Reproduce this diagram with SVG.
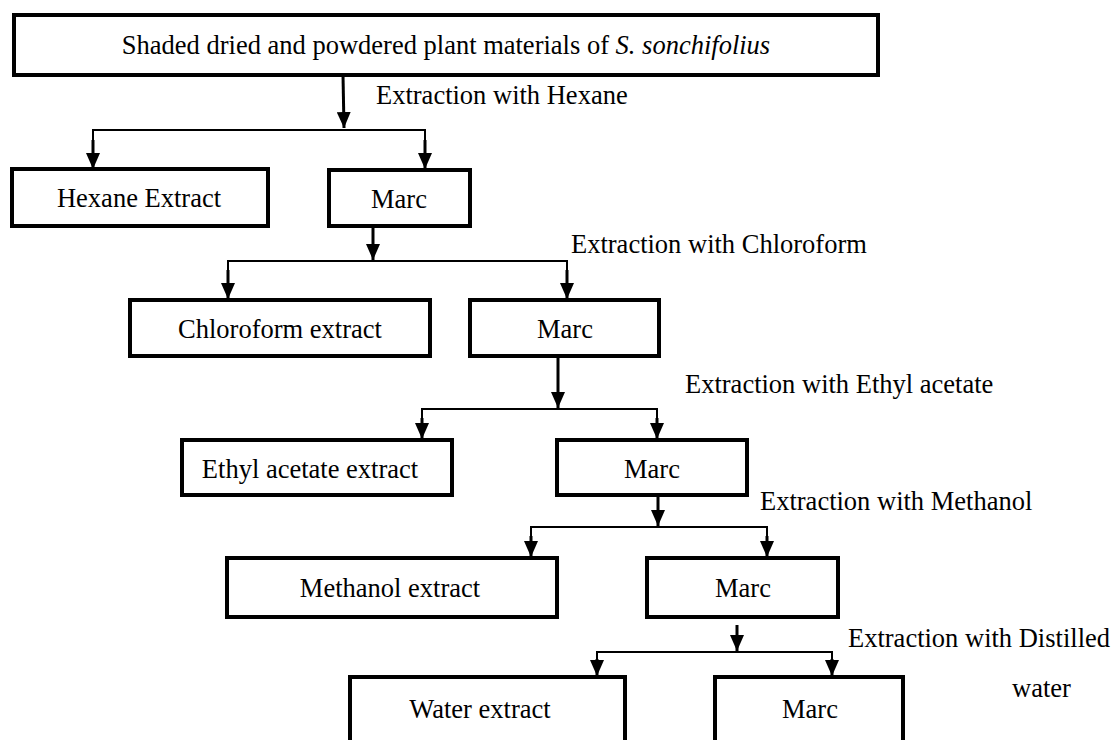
<svg xmlns="http://www.w3.org/2000/svg" width="1119" height="740" viewBox="0 0 1119 740">
<defs>
<marker id="ah" markerUnits="userSpaceOnUse" markerWidth="16" markerHeight="14" refX="16" refY="7" orient="auto" viewBox="0 0 16 14">
<path d="M0,0 L16,7 L0,14 Z" fill="#000"/>
</marker>
<style>
.box{fill:#fff;stroke:#000;stroke-width:4}
.t{font-family:"Liberation Serif","Times New Roman",serif;font-size:26.5px;fill:#000}
.c{text-anchor:middle}
.main{fill:none;stroke:#000;stroke-width:3}
.br{fill:none;stroke:#000;stroke-width:2}
</style>
</defs>
<rect width="1119" height="740" fill="#fff"/>
<g id="connectors">
<line class="main" x1="343" y1="75" x2="344" y2="128" marker-end="url(#ah)"/>
<polyline class="br" points="93,150 93,130 425,130 425,150"/>
<line class="main" x1="93" y1="140" x2="93" y2="169" marker-end="url(#ah)"/>
<line class="main" x1="425" y1="140" x2="425" y2="169" marker-end="url(#ah)"/>
<line class="main" x1="373" y1="222" x2="373" y2="260" marker-end="url(#ah)"/>
<polyline class="br" points="228,280 228,261 567,261 567,280"/>
<line class="main" x1="228" y1="270" x2="228" y2="299" marker-end="url(#ah)"/>
<line class="main" x1="567" y1="270" x2="567" y2="299" marker-end="url(#ah)"/>
<line class="main" x1="558" y1="356" x2="558" y2="408" marker-end="url(#ah)"/>
<polyline class="br" points="422,425 422,409 657,409 657,425"/>
<line class="main" x1="422" y1="418" x2="422" y2="439" marker-end="url(#ah)"/>
<line class="main" x1="657" y1="418" x2="657" y2="439" marker-end="url(#ah)"/>
<line class="main" x1="658" y1="495" x2="658" y2="526" marker-end="url(#ah)"/>
<polyline class="br" points="531,545 531,527 767,527 767,545"/>
<line class="main" x1="531" y1="536" x2="531" y2="557" marker-end="url(#ah)"/>
<line class="main" x1="767" y1="536" x2="767" y2="557" marker-end="url(#ah)"/>
<line class="main" x1="737" y1="625" x2="737" y2="651" marker-end="url(#ah)"/>
<polyline class="br" points="597,665 597,652 832,652 832,665"/>
<line class="main" x1="597" y1="659" x2="597" y2="676" marker-end="url(#ah)"/>
<line class="main" x1="832" y1="659" x2="832" y2="676" marker-end="url(#ah)"/>
</g>
<g id="labels">
<text class="t" x="376" y="104">Extraction with Hexane</text>
<text class="t" x="571" y="253">Extraction with Chloroform</text>
<text class="t" x="685" y="393">Extraction with Ethyl acetate</text>
<text class="t" x="760" y="510">Extraction with Methanol</text>
<text class="t" x="848" y="647">Extraction with Distilled</text>
<text class="t" x="1012" y="697">water</text>
</g>
<g id="n-source">
<rect class="box" x="14" y="15" width="864" height="60"/>
<text class="t c" x="446" y="54">Shaded dried and powdered plant materials of <tspan font-style="italic">S. sonchifolius</tspan></text>
</g>
<g id="n-hexane">
<rect class="box" x="12" y="169" width="256" height="57"/>
<text class="t c" x="139" y="207">Hexane Extract</text>
</g>
<g id="n-marc1">
<rect class="box" x="329" y="170" width="141" height="56"/>
<text class="t c" x="399" y="208">Marc</text>
</g>
<g id="n-chloroform">
<rect class="box" x="130" y="300" width="300" height="56"/>
<text class="t c" x="280" y="338">Chloroform extract</text>
</g>
<g id="n-marc2">
<rect class="box" x="470" y="300" width="189" height="56"/>
<text class="t c" x="565" y="338">Marc</text>
</g>
<g id="n-ethyl">
<rect class="box" x="182" y="440" width="270" height="55"/>
<text class="t c" x="310" y="478">Ethyl acetate extract</text>
</g>
<g id="n-marc3">
<rect class="box" x="557" y="440" width="190" height="55"/>
<text class="t c" x="652" y="478">Marc</text>
</g>
<g id="n-methanol">
<rect class="box" x="227" y="558" width="330" height="59"/>
<text class="t c" x="390" y="597">Methanol extract</text>
</g>
<g id="n-marc4">
<rect class="box" x="647" y="558" width="191" height="59"/>
<text class="t c" x="743" y="597">Marc</text>
</g>
<g id="n-water">
<rect class="box" x="350" y="677" width="275" height="80"/>
<text class="t c" x="480" y="718">Water extract</text>
</g>
<g id="n-marc5">
<rect class="box" x="715" y="677" width="188" height="80"/>
<text class="t c" x="810" y="718">Marc</text>
</g>
</svg>
